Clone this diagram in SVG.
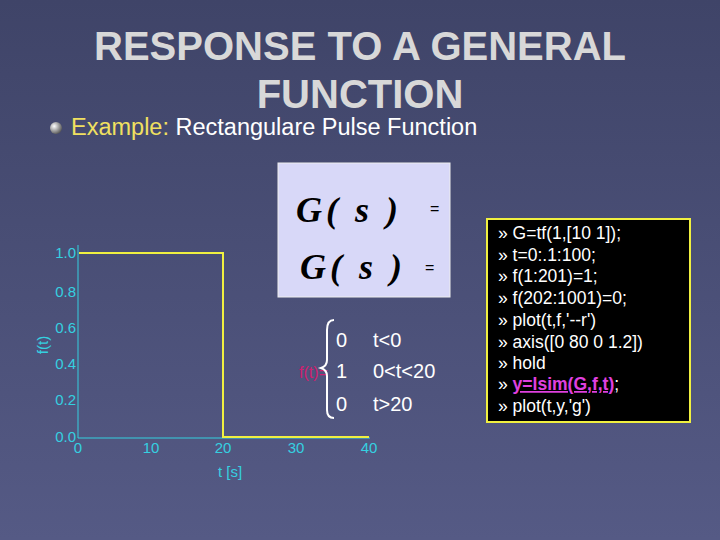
<svg xmlns="http://www.w3.org/2000/svg" width="720" height="540" viewBox="0 0 720 540">
<defs>
<linearGradient id="bg" x1="0" y1="0" x2="0" y2="1"><stop offset="0" stop-color="#3f4468"/><stop offset="1" stop-color="#555a85"/></linearGradient>
<radialGradient id="bul" cx="0.35" cy="0.35" r="0.7"><stop offset="0" stop-color="#ffffff"/><stop offset="1" stop-color="#555"/></radialGradient>
</defs>
<style>
.t{font-family:"Liberation Sans",Arial,sans-serif}
.ax{fill:#35d0e0;font-size:15px;font-family:"Liberation Sans",Arial,sans-serif}
.code{fill:#fff;font-size:17.5px;font-family:"Liberation Sans",Arial,sans-serif}
.g{font-family:"Liberation Serif","Times New Roman",serif;font-style:italic;font-weight:bold;font-size:36px;fill:#000;letter-spacing:4px}
.w{fill:#fff;font-size:20px;font-family:"Liberation Sans",Arial,sans-serif}
</style>
<rect width="720" height="540" fill="url(#bg)"/>
<g id="title"><text class="t" x="360" y="60" text-anchor="middle" font-size="40" font-weight="bold" fill="#d8d8d8">RESPONSE TO A GENERAL</text>
<text class="t" x="360" y="108" text-anchor="middle" font-size="40" font-weight="bold" fill="#d8d8d8">FUNCTION</text></g>
<g id="subtitle"><circle cx="56" cy="128" r="6" fill="url(#bul)"/>
<text class="t" x="71" y="135" font-size="23.5" fill="#fff"><tspan fill="#f0e060">Example:</tspan> Rectangulare Pulse Function</text></g>
<g id="plot">
<line x1="78" y1="245" x2="78" y2="438" stroke="#35d0e0"/>
<line x1="78" y1="438" x2="370" y2="438" stroke="#35d0e0"/>
<text class="ax" x="76" y="258" text-anchor="end">1.0</text>
<text class="ax" x="76" y="297" text-anchor="end">0.8</text>
<text class="ax" x="76" y="333" text-anchor="end">0.6</text>
<text class="ax" x="76" y="369" text-anchor="end">0.4</text>
<text class="ax" x="76" y="405" text-anchor="end">0.2</text>
<text class="ax" x="76" y="442" text-anchor="end">0.0</text>
<text class="ax" x="78" y="453" text-anchor="middle">0</text>
<text class="ax" x="151" y="453" text-anchor="middle">10</text>
<text class="ax" x="223" y="453" text-anchor="middle">20</text>
<text class="ax" x="296" y="453" text-anchor="middle">30</text>
<text class="ax" x="369" y="453" text-anchor="middle">40</text>
<text class="ax" x="230" y="477" text-anchor="middle">t [s]</text>
<text class="ax" transform="translate(48,345) rotate(-90)" text-anchor="middle">f(t)</text>
<polyline points="79,253 223,253 223,437 369,437" fill="none" stroke="#f0f040" stroke-width="2"/>
</g>
<g id="tf"><rect x="278" y="163" width="172" height="134" fill="#d8d8f8" stroke="#eee"/>
<text class="g" x="296" y="222">G( s )</text><text class="t" x="430" y="214" font-size="16" fill="#000">=</text>
<text class="g" x="300" y="279">G( s )</text><text class="t" x="425" y="273" font-size="16" fill="#000">=</text></g>
<g id="piecewise">
<text class="t" x="299" y="378" font-size="16" fill="#d02070">f(t)=</text>
<path d="M334,320 Q327,320 327,330 L327,360 Q327,366 321,368 Q327,370 327,376 L327,410 Q327,418 334,418" fill="none" stroke="#fff" stroke-width="2"/>
<text class="w" x="336" y="347">0</text><text class="w" x="373" y="347">t&lt;0</text>
<text class="w" x="336" y="378">1</text><text class="w" x="373" y="378">0&lt;t&lt;20</text>
<text class="w" x="336" y="411">0</text><text class="w" x="373" y="411">t&gt;20</text>
</g>
<g id="code"><rect x="487" y="219" width="203" height="203" fill="#000" stroke="#f0f040" stroke-width="2"/>
<text class="code" x="498" y="239">» G=tf(1,[10 1]);</text>
<text class="code" x="498" y="261">» t=0:.1:100;</text>
<text class="code" x="498" y="282">» f(1:201)=1;</text>
<text class="code" x="498" y="304">» f(202:1001)=0;</text>
<text class="code" x="498" y="326">» plot(t,f,'--r')</text>
<text class="code" x="498" y="348">» axis([0 80 0 1.2])</text>
<text class="code" x="498" y="369">» hold</text>
<text class="code" x="498" y="390">» <tspan fill="#e040e0" font-weight="bold" text-decoration="underline">y=lsim(G,f,t)</tspan>;</text>
<text class="code" x="498" y="412">» plot(t,y,'g')</text>
</g>
</svg>
